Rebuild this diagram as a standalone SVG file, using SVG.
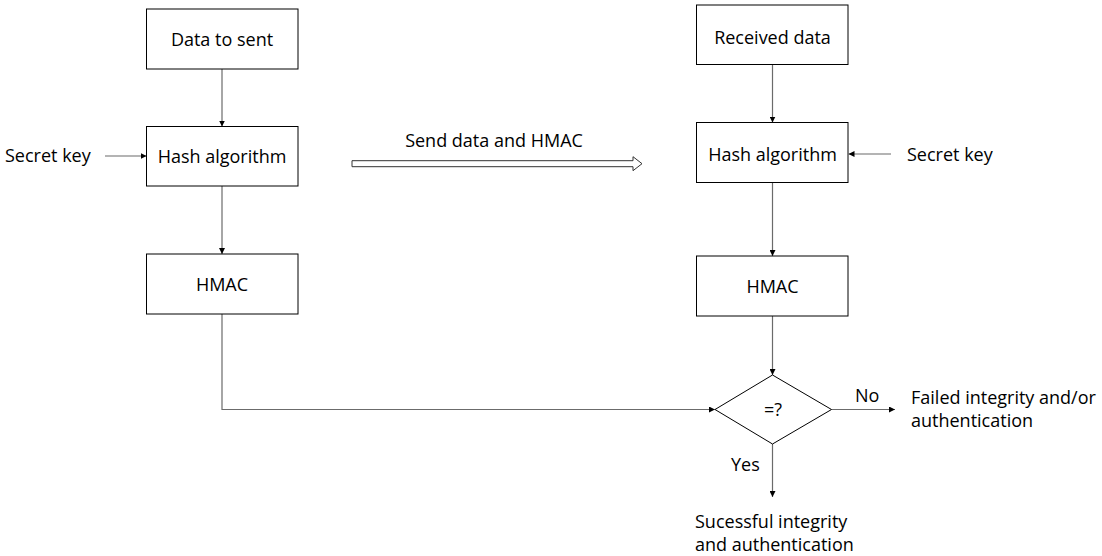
<svg xmlns="http://www.w3.org/2000/svg" width="1102" height="556" viewBox="0 0 1102 556">
<style>
text{font-family:"Open Sans","Liberation Sans",sans-serif;font-size:18px;fill:#000}
.box{fill:#fff;stroke:#000;stroke-width:1}
.c{text-anchor:middle}
.ln{fill:none;stroke:#6b6b6b;stroke-width:1.2}
</style>
<defs>
<marker id="ah" viewBox="0 0 10 10" refX="10" refY="5" markerWidth="6" markerHeight="6" markerUnits="userSpaceOnUse" orient="auto">
<path d="M0,0 L10,5 L0,10 z" fill="#000"/>
</marker>
</defs>
<rect width="1102" height="556" fill="#fff"/>
<g id="connectors">
<line class="ln" x1="222" y1="69" x2="222" y2="126.5" marker-end="url(#ah)"/>
<line class="ln" x1="105" y1="156" x2="146.5" y2="156" marker-end="url(#ah)"/>
<line class="ln" x1="222" y1="186" x2="222" y2="254" marker-end="url(#ah)"/>
<polyline class="ln" points="222,314 222,409.5 715,409.5" marker-end="url(#ah)"/>
<line class="ln" x1="772.5" y1="64.5" x2="772.5" y2="122.5" marker-end="url(#ah)"/>
<line class="ln" x1="891" y1="154" x2="848.5" y2="154" marker-end="url(#ah)"/>
<line class="ln" x1="772.5" y1="182.5" x2="772.5" y2="256" marker-end="url(#ah)"/>
<line class="ln" x1="772.5" y1="316" x2="772.5" y2="375" marker-end="url(#ah)"/>
<line class="ln" x1="831.5" y1="409.5" x2="895" y2="409.5" marker-end="url(#ah)"/>
<line class="ln" x1="772.5" y1="444" x2="772.5" y2="497" marker-end="url(#ah)"/>
<polygon points="352,160.7 633,160.7 633,156.7 642,163.7 633,170.7 633,166.7 352,166.7" fill="#fff" stroke="#333" stroke-width="1"/>
<text x="494" y="147" class="c">Send data and HMAC</text>
<text x="855" y="402">No</text>
<text x="731" y="471">Yes</text>
</g>
<g id="data-to-sent"><rect class="box" x="146.5" y="9" width="151.5" height="60"/><text x="222" y="46" class="c">Data to sent</text></g>
<g id="secret-key-left"><text x="5" y="162">Secret key</text></g>
<g id="hash-left"><rect class="box" x="146.5" y="126.5" width="151.5" height="59.5"/><text x="222" y="162.5" class="c">Hash algorithm</text></g>
<g id="hmac-left"><rect class="box" x="146.5" y="254" width="151.5" height="60"/><text x="222" y="291" class="c">HMAC</text></g>
<g id="received-data"><rect class="box" x="696.5" y="5" width="151.5" height="59.5"/><text x="772.5" y="44" class="c">Received data</text></g>
<g id="hash-right"><rect class="box" x="696.5" y="122.5" width="151.5" height="60"/><text x="772.5" y="161" class="c">Hash algorithm</text></g>
<g id="secret-key-right"><text x="907" y="161">Secret key</text></g>
<g id="hmac-right"><rect class="box" x="696.5" y="256" width="151.5" height="60"/><text x="772.5" y="293" class="c">HMAC</text></g>
<g id="compare"><polygon class="box" points="772.5,375 831.5,409.5 772.5,444 715,409.5"/><text x="773" y="416" class="c">=?</text></g>
<g id="failed"><text x="911" y="404">Failed integrity and/or</text><text x="911" y="427">authentication</text></g>
<g id="success"><text x="695" y="528">Sucessful integrity</text><text x="695" y="551">and authentication</text></g>
</svg>
